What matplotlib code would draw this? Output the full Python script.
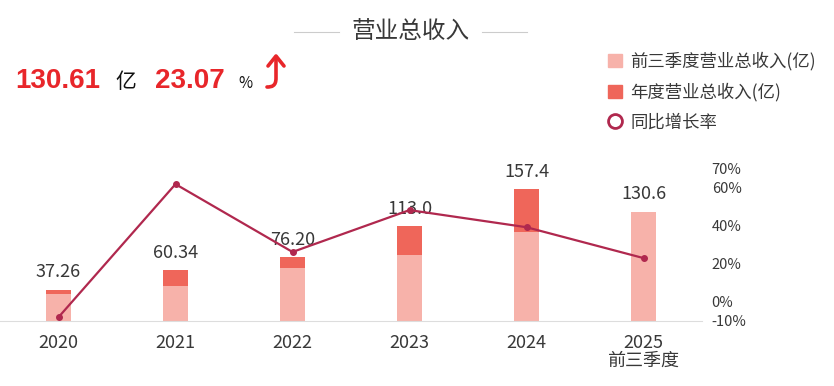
import matplotlib
matplotlib.use("Agg")
import matplotlib.pyplot as plt
from matplotlib.patches import Patch, PathPatch
from matplotlib.path import Path
from matplotlib.lines import Line2D
import numpy as np

plt.rcParams['font.family'] = ['Noto Sans CJK SC', 'DejaVu Sans']

years = ["2020", "2021", "2022", "2023", "2024", "2025\n前三季度"]
total = [37.26, 60.34, 76.20, 113.0, 157.4, 130.6]
q3 = [31.9, 41.5, 63.3, 78.9, 106.1, 130.6]
total_labels = ["37.26", "60.34", "76.20", "113.0", "157.4", "130.6"]
yoy = [-8.0, 61.94, 26.28, 48.29, 39.29, 23.07]
yoy_ticks = [-10, 0, 20, 40, 60, 70]

pink = "#f7b2aa"
red = "#ef665a"
line_c = "#b0284e"
txt_c = "#383838"

x = np.arange(len(years))
rest = [t - q if i < len(years) - 1 else 0 for i, (t, q) in enumerate(zip(total, q3))]

W, H = 834, 386
fig = plt.figure(figsize=(W / 100, H / 100), dpi=100)
ax = fig.add_axes([0, 1 - 321 / H, 702 / W, (321 - 168.8) / H])
ax2 = ax.twinx()

ax.bar(x, q3, width=0.21, color=pink)
ax.bar(x, rest, bottom=q3, width=0.21, color=red)
for i, t in enumerate(total):
    ax.annotate(total_labels[i], (x[i], t), xytext=(0, 12.5), textcoords="offset points",
                ha="center", va="center", fontsize=13, color=txt_c)

ax.set_xlim(-0.5, 5.5)
ax.set_ylim(0, 181.8)
ax.set_xticks(x)
ax.set_xticklabels(years, fontsize=13, color=txt_c, linespacing=1.05)
ax.tick_params(axis="x", length=0, pad=9)
ax.set_yticks([])
for s in ["top", "left", "right"]:
    ax.spines[s].set_visible(False)
ax.spines["bottom"].set_color("#dddddd")

ax2.plot(x, yoy, color=line_c, lw=1.6, marker="o", ms=4)
ax2.set_ylim(-10, 70)
ax2.set_yticks(yoy_ticks)
ax2.set_yticklabels([f"{v}%" for v in yoy_ticks], fontsize=10.5, color=txt_c)
ax2.tick_params(axis="y", length=0, pad=7)
for s in ["top", "left", "right", "bottom"]:
    ax2.spines[s].set_visible(False)

# title with side lines
fig.text(411 / W, 1 - 32 / H, "营业总收入", ha="center", va="center", fontsize=17, color=txt_c)
fig.add_artist(Line2D([294 / W, 339 / W], [1 - 32 / H] * 2, color="#cccccc", lw=0.8))
fig.add_artist(Line2D([482 / W, 527 / W], [1 - 32 / H] * 2, color="#cccccc", lw=0.8))

# header numbers
by = 1 - 88 / H
fig.text(15 / W, by, "130.61", fontsize=20, fontweight="bold", color="#e8262a",
         family="Liberation Sans", va="baseline")
fig.text(115 / W, by, "亿", fontsize=15, color="#111111", va="baseline")
fig.text(155 / W, by, "23.07", fontsize=20, fontweight="bold", color="#e8262a",
         family="Liberation Sans", va="baseline")
fig.text(238 / W, by, "%", fontsize=11, color="#111111", va="baseline")


# up arrow icon (no font has the glyph)
def fp(px, py):
    return (px / W, 1 - py / H)


stem = Path([fp(276, 57), fp(276, 78), fp(276, 86), fp(272, 87), fp(267, 87)],
            [Path.MOVETO, Path.LINETO, Path.CURVE4, Path.CURVE4, Path.CURVE4])
head = Path([fp(268, 66), fp(276, 56), fp(284, 66)], [Path.MOVETO, Path.LINETO, Path.LINETO])
for p in (stem, head):
    fig.add_artist(PathPatch(p, transform=fig.transFigure, facecolor="none",
                             edgecolor="#e8262a", lw=2.6, capstyle="round", joinstyle="round"))

handles = [Patch(color=pink), Patch(color=red),
           Line2D([], [], color=line_c, marker="o", markerfacecolor="none",
                  markeredgewidth=2, markersize=10, linestyle="none")]
labels = ["前三季度营业总收入(亿)", "年度营业总收入(亿)", "同比增长率"]
fig.legend(handles, labels, loc="upper left", bbox_to_anchor=(608 / W, 1 - 52 / H),
           frameon=False, fontsize=12.5, handlelength=0.8, handleheight=0.8,
           handletextpad=0.5, labelspacing=0.68, borderpad=0, borderaxespad=0,
           labelcolor=txt_c)

fig.savefig("out.png", dpi=100)
